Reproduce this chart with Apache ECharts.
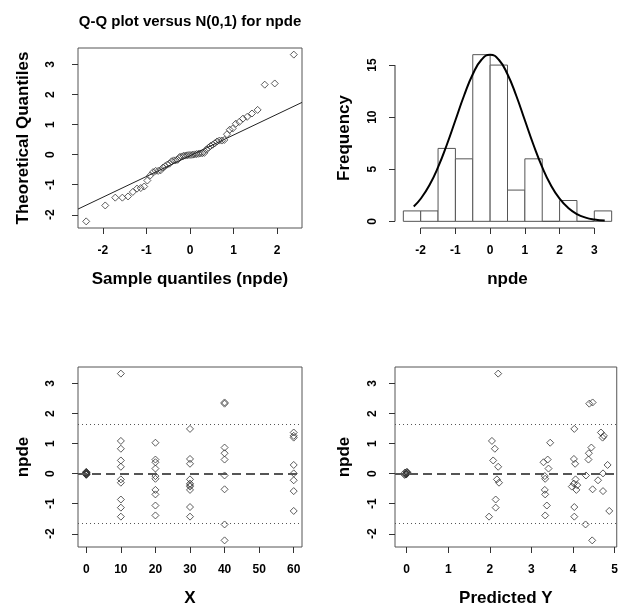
<!DOCTYPE html>
<html>
<head>
<meta charset="utf-8">
<title>npde diagnostics</title>
<script src="https://cdn.jsdelivr.net/npm/echarts@6.0.0/dist/echarts.min.js"></script>
<style>
    html, body { margin: 0; padding: 0; background: #fff; }
    #main { width: 621px; height: 610px; }
</style>
</head>
<body>
<div id="main"></div>
<script>
// 每个观测值: 时间 X, 预测值, npde
var timeX = [0,0,0,0,0,0,0,0,0,0,0,
    10,10,10,10,10,10,10,10,10,10,
    20,20,20,20,20,20,20,20,20,20,
    30,30,30,30,30,30,30,30,30,30,
    40,40,40,40,40,40,40,40,40,
    60,60,60,60,60,60,60,60];
var predY = [-0.05,-0.03,-0.02,-0.01,0,0,0.01,0.02,-0.04,0,0.01,
    2.20,2.05,2.12,2.08,2.20,2.17,2.22,2.14,2.14,1.98,
    3.45,3.39,3.29,3.41,3.32,3.33,3.32,3.33,3.37,3.33,
    4.03,4.02,4.05,4.06,4.02,4.10,3.97,4.08,4.03,4.03,
    4.47,4.39,4.44,4.38,4.37,4.31,4.47,4.30,4.46,
    4.67,4.74,4.71,4.83,4.72,4.60,4.72,4.87];
var npde = [-0.04,-0.03,-0.02,-0.01,-0.01,0.00,0.02,0.03,0.04,0.05,0.06,
    3.33,1.09,0.83,0.44,0.23,-0.19,-0.30,-0.86,-1.13,-1.43,
    1.03,0.47,0.38,0.17,-0.08,-0.17,-0.54,-0.69,-1.06,-1.39,
    1.49,0.49,0.33,-0.19,-0.33,-0.38,-0.43,-0.54,-1.11,-1.43,
    2.37,2.33,0.87,0.68,0.47,-0.06,-0.52,-1.69,-2.22,
    1.37,1.26,1.20,0.29,0.01,-0.22,-0.58,-1.24];

// Q-Q 图横坐标 (正态分位数)
var qqTheo = [-2.382,-1.945,-1.715,-1.552,-1.422,-1.312,-1.216,-1.130,-1.051,-0.979,
    -0.911,-0.848,-0.787,-0.730,-0.674,-0.621,-0.570,-0.520,-0.471,-0.423,
    -0.376,-0.330,-0.284,-0.240,-0.196,-0.152,-0.108,-0.065,-0.022,
    0.022,0.065,0.108,0.152,0.196,0.240,0.284,0.330,0.376,0.423,
    0.471,0.520,0.570,0.621,0.674,0.730,0.787,0.848,0.911,0.979,
    1.051,1.130,1.216,1.312,1.422,1.552,1.715,1.945,2.382];
var qqLineX = [-2.57, 2.57];
var qqLineY = [-1.81, 1.74];

// 直方图
var histBreaks = [-2.5,-2,-1.5,-1,-0.5,0,0.5,1,1.5,2,2.5,3,3.5];
var histCounts = [1,1,7,6,16,15,3,6,0,2,0,1];
var curveX = [-2.2,-2.0,-1.75,-1.5,-1.25,-1.0,-0.75,-0.5,-0.25,0,0.25,0.5,0.75,1.0,1.25,1.5,1.75,2.0,2.25,2.5,2.75,3.0,3.3];
var curveY = [1.42,2.17,3.46,5.20,7.33,9.70,12.08,14.12,15.51,16.0,15.51,14.12,12.08,9.70,7.33,5.20,3.46,2.17,1.28,0.70,0.36,0.18,0.07];

// 刻度
var npdeTicks = [-2,-1,0,1,2,3];
var qqXTicks = [-2,-1,0,1,2];
var histXTicks = [-2,-1,0,1,2,3];
var freqTicks = [0,5,10,15];
var timeTicks = [0,10,20,30,40,50,60];
var predTicks = [0,1,2,3,4,5];
var refLines = [-1.645, 0, 1.645];

var FONT = '"Liberation Sans", Arial, sans-serif';
var myChart = echarts.init(document.getElementById('main'));

var sorted = npde.slice().sort(function (a, b) { return a - b; });
var qqData = [], timeData = [], predData = [];
for (var i = 0; i < npde.length; i++) {
    qqData.push([qqTheo[i], sorted[i]]);
    timeData.push([timeX[i], npde[i]]);
    predData.push([predY[i], npde[i]]);
}
var histData = [];
for (var j = 0; j < histCounts.length; j++) {
    histData.push([histBreaks[j], histBreaks[j + 1], histCounts[j]]);
}
var curveData = curveX.map(function (x, k) { return [x, curveY[k]]; });

function xAx(idx, min, max, ticks, name) {
    return {
        type: 'value', gridIndex: idx, min: min, max: max,
        name: name, nameLocation: 'middle', nameGap: 43,
        nameTextStyle: { fontFamily: FONT, fontWeight: 'bold', fontSize: 17, color: '#000' },
        axisLine: { show: false, onZero: false },
        splitLine: { show: false },
        axisTick: { show: true, length: 6, customValues: ticks, lineStyle: { color: '#333' } },
        axisLabel: { customValues: ticks, margin: 17, fontFamily: FONT, fontWeight: 'bold', fontSize: 12, color: '#000' }
    };
}
function yAx(idx, min, max, ticks, name, left) {
    return {
        type: 'value', gridIndex: idx, min: min, max: max,
        name: name, nameLocation: 'middle', nameGap: left ? 46 : 42,
        nameTextStyle: { fontFamily: FONT, fontWeight: 'bold', fontSize: 17, color: '#000' },
        axisLine: { show: false, onZero: false },
        splitLine: { show: false },
        axisTick: { show: true, length: 6, customValues: ticks, lineStyle: { color: '#333' } },
        axisLabel: { customValues: ticks, rotate: 90, margin: left ? 21 : 16, fontFamily: FONT, fontWeight: 'bold', fontSize: 12, color: '#000' }
    };
}

var pointStyle = { color: 'rgba(255,255,255,0)', borderColor: '#333', borderWidth: 1 };
function refMark() {
    return {
        silent: true, symbol: 'none', label: { show: false },
        data: refLines.map(function (v) {
            return {
                yAxis: v,
                lineStyle: v === 0 ? { color: '#555', width: 2, type: [9, 5] } : { color: '#555', width: 1, type: [1, 3] }
            };
        })
    };
}

var option = {
    animation: false,
    backgroundColor: '#fff',
    graphic: [{
        type: 'text', x: 190, y: 22,
        style: { text: 'Q-Q plot versus N(0,1) for npde', textAlign: 'center', textVerticalAlign: 'middle',
            font: 'bold 15px ' + FONT, fill: '#000' }
    }],
    grid: [
        { left: 78, top: 48, width: 224, height: 180, show: true, borderColor: '#555', borderWidth: 1, backgroundColor: 'transparent' },
        { left: 395, top: 48, width: 225, height: 180, show: false },
        { left: 78, top: 367, width: 224, height: 180, show: true, borderColor: '#555', borderWidth: 1, backgroundColor: 'transparent' },
        { left: 395, top: 367, width: 224, height: 180, show: true, borderColor: '#555', borderWidth: 1, backgroundColor: 'transparent' }
    ],
    xAxis: [
        xAx(0, -2.57, 2.57, qqXTicks, 'Sample quantiles (npde)'),
        xAx(1, -2.74, 3.74, histXTicks, 'npde'),
        xAx(2, -2.4, 62.4, timeTicks, 'X'),
        xAx(3, -0.28, 5.05, predTicks, 'Predicted Y')
    ],
    yAxis: [
        yAx(0, -2.44, 3.55, npdeTicks, 'Theoretical Quantiles', true),
        yAx(1, -0.64, 16.64, freqTicks, 'Frequency', false),
        yAx(2, -2.44, 3.55, npdeTicks, 'npde', true),
        yAx(3, -2.44, 3.55, npdeTicks, 'npde', false)
    ],
    series: [
        {
            type: 'scatter', xAxisIndex: 0, yAxisIndex: 0, data: qqData,
            symbol: 'diamond', symbolSize: 7, itemStyle: pointStyle
        },
        {
            type: 'line', xAxisIndex: 0, yAxisIndex: 0,
            data: qqLineX.map(function (x, k) { return [x, qqLineY[k]]; }),
            symbol: 'none', lineStyle: { color: '#222', width: 1 }
        },
        {
            type: 'custom', xAxisIndex: 1, yAxisIndex: 1, data: histData,
            encode: { x: [0, 1], y: 2 },
            renderItem: function (params, api) {
                var p0 = api.coord([api.value(0), 0]);
                var p1 = api.coord([api.value(1), api.value(2)]);
                return {
                    type: 'rect',
                    shape: { x: p0[0], y: p1[1], width: p1[0] - p0[0], height: p0[1] - p1[1] },
                    style: { fill: '#fff', stroke: '#555', lineWidth: 1 }
                };
            }
        },
        {
            type: 'line', xAxisIndex: 1, yAxisIndex: 1, data: curveData, smooth: true,
            symbol: 'none', lineStyle: { color: '#000', width: 2 }
        },
        {
            // 直方图的坐标轴线 (只画到首尾刻度)
            type: 'line', xAxisIndex: 1, yAxisIndex: 1, clip: false, symbol: 'none',
            data: [[histXTicks[0], -0.64], [histXTicks[histXTicks.length - 1], -0.64]],
            lineStyle: { color: '#333', width: 1 }
        },
        {
            type: 'line', xAxisIndex: 1, yAxisIndex: 1, clip: false, symbol: 'none',
            data: [[-2.74, freqTicks[0]], [-2.74, freqTicks[freqTicks.length - 1]]],
            lineStyle: { color: '#333', width: 1 }
        },
        {
            type: 'scatter', xAxisIndex: 2, yAxisIndex: 2, data: timeData,
            symbol: 'diamond', symbolSize: 7, itemStyle: pointStyle, markLine: refMark()
        },
        {
            type: 'scatter', xAxisIndex: 3, yAxisIndex: 3, data: predData,
            symbol: 'diamond', symbolSize: 7, itemStyle: pointStyle, markLine: refMark()
        }
    ]
};
myChart.setOption(option);
</script>
</body>
</html>
